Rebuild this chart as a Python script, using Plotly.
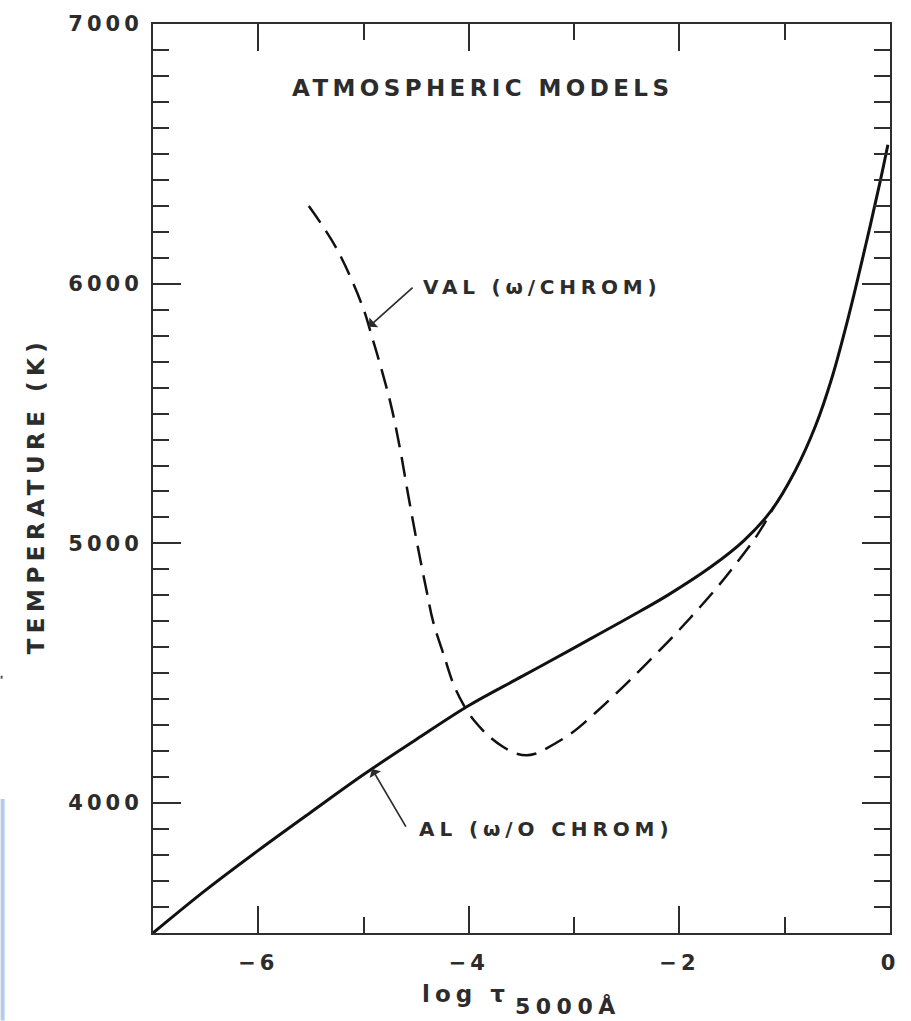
import numpy as np
import plotly.graph_objects as go

# ---- data -------------------------------------------------------------
# AL model (without chromosphere): log tau(5000 A) vs temperature (K)
al_log_tau = [-7.0, -6.5, -6.0, -5.5, -5.0, -4.5, -4.0, -3.5, -3.0, -2.75, -2.37,
              -2.11, -1.70, -1.39, -1.13, -0.90, -0.71, -0.55, -0.39, -0.23, -0.09, -0.02]
al_temp = [3500, 3665, 3818, 3965, 4110, 4245, 4376, 4487, 4598, 4654, 4740,
           4801, 4910, 5010, 5125, 5280, 5450, 5640, 5880, 6150, 6400, 6535]

# VAL model (with chromosphere)
val_log_tau = [-5.52, -5.26, -5.01, -4.92, -4.84, -4.75, -4.70, -4.64, -4.58, -4.52,
               -4.46, -4.40, -4.34, -4.23, -4.15, -4.05, -3.95, -3.81, -3.68, -3.56,
               -3.45, -3.37, -3.28, -3.02, -2.80, -2.56, -2.35, -2.10, -1.90, -1.66,
               -1.47, -1.26, -1.10]
val_temp = [6299, 6138, 5913, 5795, 5685, 5550, 5460, 5335, 5195, 5062,
            4935, 4815, 4700, 4560, 4462, 4378, 4318, 4258, 4218, 4192,
            4184, 4190, 4207, 4271, 4347, 4438, 4522, 4625, 4712, 4822,
            4918, 5033, 5143]

x_tick_vals = [-6, -4, -2, 0]
x_tick_text = ["\u22126", "\u22124", "\u22122", "0"]
y_tick_vals = [4000, 5000, 6000, 7000]
y_tick_text = ["4000", "5000", "6000", "7000"]

title_text = "ATMOSPHERIC MODELS"
val_label = "VAL (\u03c9/CHROM)"
al_label = "AL (\u03c9/O CHROM)"
y_title = "TEMPERATURE (K)"
x_title_main = "log \u03c4"
x_title_sub = "5000\u00c5"

# ---- styling ----------------------------------------------------------
INK = "#2c2c2c"
AXIS = "#2e2e2e"
FONT = "DejaVu Sans"
W, H = 911, 1021
L, R, T, B = 153, 18, 18, 88


def spaced(text, gap):
    return f'<span style="letter-spacing:{gap}px">{text}</span>'


def paper(px, py):
    """Convert a page position in pixels to paper coordinates."""
    return (px - L) / (W - L - R), (H - B - py) / (H - T - B)


def label_font(size):
    return dict(family=FONT, size=size, color=INK, weight="bold")


fig = go.Figure()

fig.add_trace(go.Scatter(
    x=al_log_tau, y=al_temp, mode="lines",
    line=dict(color="#111111", width=3, shape="spline", smoothing=1.0),
    hoverinfo="skip",
))
fig.add_trace(go.Scatter(
    x=val_log_tau, y=val_temp, mode="lines",
    line=dict(color="#111111", width=2.5, dash="20px,10px", shape="spline", smoothing=1.0),
    hoverinfo="skip",
))

annotations = []

# Figure heading inside the frame
hx, hy = paper(484, 82)
annotations.append(dict(x=hx, y=hy, xref="paper", yref="paper", showarrow=False,
                        text=spaced(title_text, 4.4), font=label_font(23),
                        xanchor="center", yanchor="middle"))

# Curve labels with pointer arrows (arrowheads sit on the curves)
vx, vy = paper(422, 283)
annotations.append(dict(x=vx, y=vy, xref="paper", yref="paper", showarrow=False,
                        text=spaced(val_label, 4.8), font=label_font(20),
                        xanchor="left", yanchor="middle"))
ax_, ay_ = paper(418, 828)
annotations.append(dict(x=ax_, y=ay_, xref="paper", yref="paper", showarrow=False,
                        text=spaced(al_label, 4.9), font=label_font(20),
                        xanchor="left", yanchor="middle"))

val_head_x = -4.95
annotations.append(dict(x=val_head_x, y=float(np.interp(val_head_x, val_log_tau, val_temp)),
                        xref="x", yref="y", axref="x", ayref="y",
                        ax=-4.52, ay=5990, text="", showarrow=True,
                        arrowhead=1, arrowsize=1.3, arrowwidth=1.7, arrowcolor=INK))
al_head_x = -4.92
annotations.append(dict(x=al_head_x, y=float(np.interp(al_head_x, al_log_tau, al_temp)),
                        xref="x", yref="y", axref="x", ayref="y",
                        ax=-4.59, ay=3904, text="", showarrow=True,
                        arrowhead=1, arrowsize=1.3, arrowwidth=1.7, arrowcolor=INK))

# Axis titles
tx, ty = paper(35, 492)
annotations.append(dict(x=tx, y=ty, xref="paper", yref="paper", showarrow=False,
                        text=spaced(y_title, 5.5), textangle=-90, font=label_font(23),
                        xanchor="center", yanchor="middle"))
lx, ly = paper(467, 994)
annotations.append(dict(x=lx, y=ly, xref="paper", yref="paper", showarrow=False,
                        text=spaced(x_title_main, 5), font=label_font(23),
                        xanchor="center", yanchor="middle"))
sx, sy = paper(570, 1007)
annotations.append(dict(x=sx, y=sy, xref="paper", yref="paper", showarrow=False,
                        text=spaced(x_title_sub, 5.5), font=label_font(22),
                        xanchor="center", yanchor="middle"))

# Light blue strip and small speck at the left edge of the page
bx0, by0 = paper(0, 1021)
bx1, by1 = paper(4, 798)
dx0, dy0 = paper(0, 677)
dx1, dy1 = paper(2, 674)
shapes = [
    dict(type="rect", xref="paper", yref="paper", x0=bx0, x1=bx1, y0=by0, y1=by1,
         fillcolor="#b4cbe8", line=dict(width=0), layer="below"),
    dict(type="rect", xref="paper", yref="paper", x0=dx0, x1=dx1, y0=dy0, y1=dy1,
         fillcolor="#555555", line=dict(width=0)),
]

tick_font = label_font(21)

fig.update_layout(
    width=W, height=H,
    margin=dict(l=L, r=R, t=T, b=B, pad=0),
    paper_bgcolor="white", plot_bgcolor="white",
    showlegend=False,
    annotations=annotations,
    shapes=shapes,
    xaxis=dict(
        range=[-7, 0], tickmode="array", tickvals=x_tick_vals,
        ticktext=[spaced(t, 4) for t in x_tick_text],
        ticks="inside", ticklen=27, tickwidth=2, tickcolor=AXIS,
        showline=True, linewidth=2, linecolor=AXIS, mirror="ticks",
        showgrid=False, zeroline=False, tickfont=tick_font, ticklabelstandoff=10,
        minor=dict(dtick=1, tick0=0, ticks="inside", ticklen=16, tickwidth=2,
                   tickcolor=AXIS, showgrid=False),
        fixedrange=True,
    ),
    yaxis=dict(
        range=[3500, 7000], tickmode="array", tickvals=y_tick_vals,
        ticktext=[spaced(t, 4) for t in y_tick_text],
        ticks="inside", ticklen=28, tickwidth=2, tickcolor=AXIS,
        showline=True, linewidth=2, linecolor=AXIS, mirror="ticks",
        showgrid=False, zeroline=False, tickfont=tick_font, ticklabelstandoff=4,
        minor=dict(dtick=100, tick0=0, ticks="inside", ticklen=16, tickwidth=2,
                   tickcolor=AXIS, showgrid=False),
        fixedrange=True,
    ),
)

fig.write_html("out.html")
